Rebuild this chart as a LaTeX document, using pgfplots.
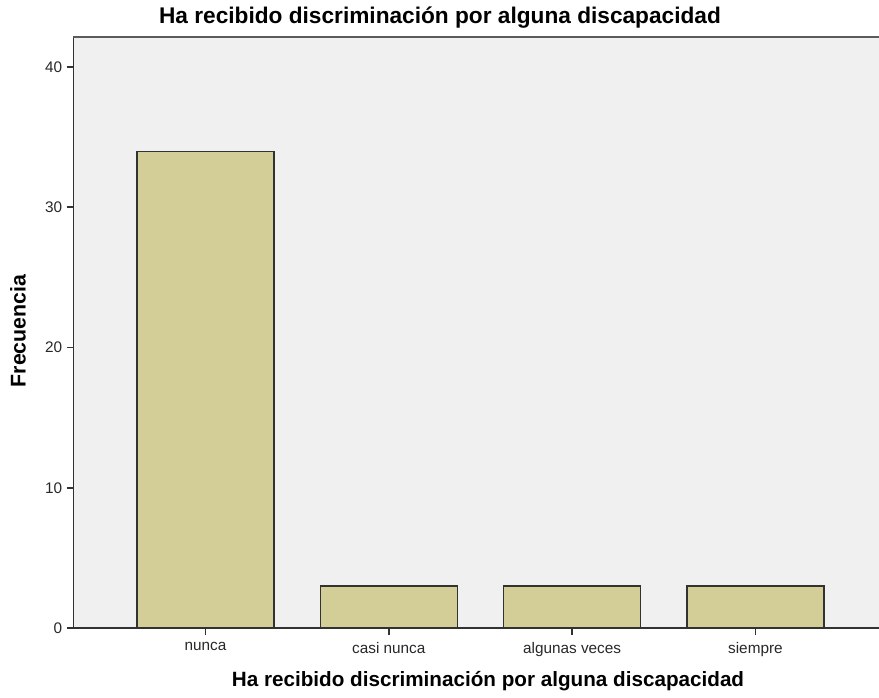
\documentclass[border=0pt]{standalone}
\usepackage{pgfplots}
\pgfplotsset{compat=1.18}
\usepackage{fontspec}
\setmainfont{Liberation Sans}
\definecolor{barfill}{RGB}{211,206,151}
\definecolor{bgc}{RGB}{240,240,240}
\definecolor{edge}{RGB}{50,50,50}
\definecolor{tlab}{RGB}{40,40,40}
\begin{document}
\begin{tikzpicture}[x=0.75pt,y=0.75pt]
\fill[white] (0,0) rectangle (879,698);
\useasboundingbox (0,0) rectangle (879,698);
\begin{axis}[
  at={(55.125pt,52.5pt)}, anchor=south west,
  scale only axis, width=604.1pt, height=443.25pt,
  xmin=-0.72, xmax=3.674, ymin=0, ymax=42.14,
  axis background/.style={fill=bgc},
  axis x line*=bottom, axis y line*=left,
  axis line style={edge, line width=1.2pt},
  xtick=data, xticklabels={nunca,casi nunca,algunas veces,siempre},
  ytick={0,10,20,30,40},
  tick align=outside, major tick length=5pt,
  xtick style={edge, line width=1.3pt},
  ytick style={edge, line width=1.3pt},
  tick label style={font=\fontsize{11.5}{14}\selectfont, text=tlab},
  xticklabel style={yshift=-2pt},
  /pgf/number format/assume math mode=true,
  ybar, bar width=102.75pt,
  clip=false,
]
\addplot[fill=barfill, draw=edge, line width=0.9pt] coordinates {(0,34) (1,3) (2,3) (3,3)};
\draw[edge!80, line width=1.6pt] (rel axis cs:0,1) -- (rel axis cs:1,1);
\end{axis}
\node[font=\bfseries\fontsize{17}{20}\selectfont] at (440,680) {Ha recibido discriminación por alguna discapacidad};
\node[font=\bfseries\fontsize{15.5}{18}\selectfont] at (488,17) {Ha recibido discriminación por alguna discapacidad};
\node[font=\bfseries\fontsize{16}{18}\selectfont, rotate=90] at (18,367) {Frecuencia};
\end{tikzpicture}
\end{document}
